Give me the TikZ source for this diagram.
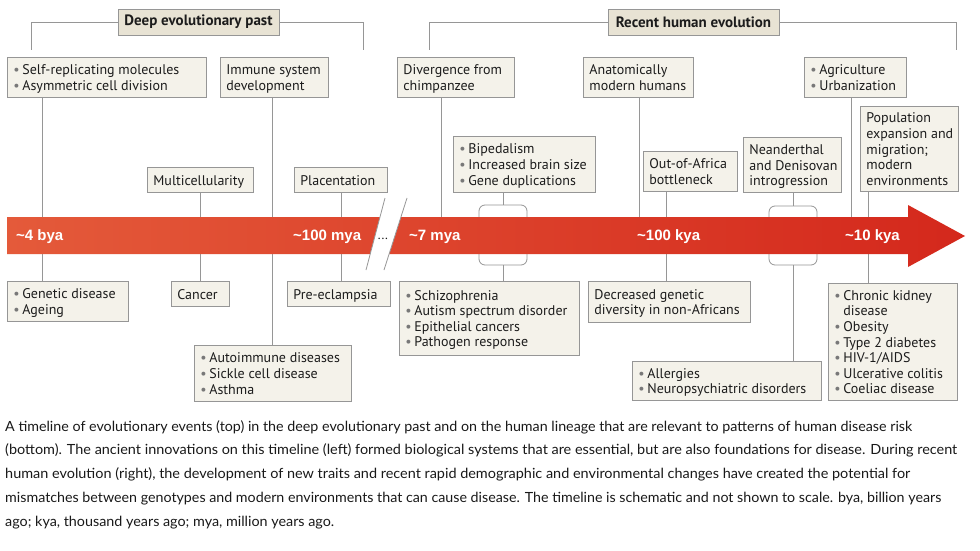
\documentclass[tikz,border=0pt]{standalone}
\usepackage{fontspec}
\usepackage{graphicx}
\setmainfont{PT Sans}
\newfontfamily\capfont{Lato}
\newfontfamily\lblfont{Liberation Sans}
\definecolor{boxfill}{RGB}{244,242,234}
\definecolor{hdrfill}{RGB}{232,227,212}
\definecolor{boxdraw}{RGB}{150,150,150}
\definecolor{conncol}{RGB}{150,150,150}
\definecolor{txt}{RGB}{28,28,28}
\definecolor{captxt}{RGB}{25,25,25}
\definecolor{bulc}{RGB}{120,120,120}
\definecolor{bandL}{RGB}{228,90,58}
\definecolor{bandR}{RGB}{212,40,28}
\newcommand\bul{\makebox[9pt][l]{\textcolor{bulc}{•}}}
\newcommand\boxat[6]{%
  \pgfmathsetmacro\bw{#4-#2-12}\pgfmathsetmacro\bh{#5-#3}%
  \pgfmathsetmacro\bww{#4-#2}%
  \node[evbox, minimum width=\bww pt, minimum height=\bh pt] (#1) at (#2,#3)
    {\makebox[\bw pt][l]{\raisebox{-2pt}[\height][\depth]{\begin{tabular}{@{}l@{}}#6\end{tabular}}}};}
\newcommand\capline[3]{\node[capnode] at (5,#1) {\resizebox{#2pt}{\height}{#3}};}
\tikzset{
  evbox/.style={draw=boxdraw, fill=boxfill, line width=0.8pt, inner xsep=6pt, inner ysep=2pt,
    anchor=north west, text=txt, font=\fontsize{14}{15.6}\selectfont},
  hdrbox/.style={draw=boxdraw, fill=hdrfill, line width=0.8pt, inner sep=0pt, align=center,
    text=txt, font=\bfseries\fontsize{15}{16}\selectfont},
  conn/.style={draw=conncol, line width=0.8pt},
  tlabel/.style={anchor=west, inner sep=0pt, text=white, font=\lblfont\bfseries\fontsize{15}{18}\selectfont},
  capnode/.style={anchor=base west, inner sep=0pt, text=captxt, font=\capfont\fontsize{14}{16}\selectfont},
}
\begin{document}
\begin{tikzpicture}[x=1pt,y=-1pt]
\useasboundingbox (0,0) rectangle (980,551);
\fill[white] (0,0) rectangle (980,551);

% headers
\node[hdrbox, minimum width=161pt, minimum height=26pt] (H1) at (198.5,22) {Deep evolutionary past};
\node[hdrbox, minimum width=171pt, minimum height=26pt] (H2) at (693.5,22) {Recent human evolution};
\coordinate (h1l) at (31,50); \coordinate (h1r) at (363,50);
\coordinate (h2l) at (429,50); \coordinate (h2r) at (956,50);
\draw[conn] (h1l) |- (H1.west);
\draw[conn] (H1.east) -| (h1r);
\draw[conn] (h2l) |- (H2.west);
\draw[conn] (H2.east) -| (h2r);

% band coordinates (top and bottom of timeline)
\foreach \n/\x in {A/42,B/272,C/441,D/639,E/851,M/200,P/341,Bi/503,O/666,N/793,Po/868}{
  \coordinate (t\n) at (\x,217);
  \coordinate (b\n) at (\x,254);
}
\coordinate (k1t) at (503,205); \coordinate (k1b) at (503,265);
\coordinate (k2t) at (793,206); \coordinate (k2b) at (793,265);

% top row
\boxat{A}{7}{57}{206}{97}{\bul Self-replicating molecules\\\bul Asymmetric cell division}
\boxat{B}{220}{57}{328}{97}{Immune system\\development}
\boxat{C}{397}{57}{514}{97}{Divergence from\\chimpanzee}
\boxat{D}{583}{57}{693}{97}{Anatomically\\modern humans}
\boxat{E}{804}{57}{906}{97}{\bul Agriculture\\\bul Urbanization}

% middle row above
\boxat{Mc}{147}{167}{253}{192}{Multicellularity}
\boxat{Pl}{294}{167}{387}{192}{Placentation}
\boxat{Bip}{453}{136}{595}{192}{\bul Bipedalism\\\bul Increased brain size\\\bul Gene duplications}
\boxat{Oa}{643}{151}{737}{191}{Out-of-Africa\\bottleneck}
\boxat{Ne}{743}{137}{841}{192}{Neanderthal\\and Denisovan\\introgression}
\boxat{Pop}{860}{106}{958}{191}{Population\\expansion and\\migration;\\modern\\environments}

% below
\boxat{Gd}{7}{281}{128}{321}{\bul Genetic disease\\\bul Ageing}
\boxat{Ca}{171}{281}{229}{306}{Cancer}
\boxat{Pe}{287}{281}{390}{306}{Pre-eclampsia}
\boxat{Au}{194}{345}{351}{401}{\bul Autoimmune diseases\\\bul Sickle cell disease\\\bul Asthma}
\boxat{Sc}{399}{281}{579}{355}{\bul Schizophrenia\\\bul Autism spectrum disorder\\\bul Epithelial cancers\\\bul Pathogen response}
\boxat{Dg}{588}{281}{750}{322}{Decreased genetic\\diversity in non-Africans}
\boxat{Al}{632}{361}{821}{400}{\bul Allergies\\\bul Neuropsychiatric disorders}
\boxat{Ck}{828}{283}{957}{400}{\bul Chronic kidney\\\hspace*{9pt}disease\\\bul Obesity\\\bul Type 2 diabetes\\\bul HIV-1/AIDS\\\bul Ulcerative colitis\\\bul Coeliac disease}

% connectors top
\draw[conn] (A.south -| tA) -- (tA);
\draw[conn] (B.south -| tB) -- (tB);
\draw[conn] (C.south -| tC) -- (tC);
\draw[conn] (D.south -| tD) -- (tD);
\draw[conn] (E.south -| tE) -- (tE);
\draw[conn] (Mc.south -| tM) -- (tM);
\draw[conn] (Pl.south -| tP) -- (tP);
\draw[conn] (Oa.south -| tO) -- (tO);
\draw[conn] (Pop.south -| tPo) -- (tPo);
% brackets
\draw[conn] (Bip.south -| k1t) -- (k1t);
\draw[conn, rounded corners=6pt] (479,217) -- (479,205) -- (527,205) -- (527,217);
\draw[conn] (Ne.south -| k2t) -- (k2t);
\draw[conn, rounded corners=6pt] (769,217) -- (769,206) -- (817,206) -- (817,217);
\draw[conn, rounded corners=6pt] (479,254) -- (479,265) -- (527,265) -- (527,254);
\draw[conn, rounded corners=6pt] (769,254) -- (769,265) -- (817,265) -- (817,254);
\draw[conn] (Sc.north -| k1b) -- (k1b);
\draw[conn] (Al.north -| k2b) -- (k2b);
% connectors bottom
\draw[conn] (Gd.north -| bA) -- (bA);
\draw[conn] (Au.north -| bB) -- (bB);
\draw[conn] (Ca.north -| bM) -- (bM);
\draw[conn] (Pe.north -| bP) -- (bP);
\draw[conn] (Dg.north -| bO) -- (bO);
\draw[conn] (Ck.north -| bPo) -- (bPo);

% band
\shade[left color=bandL, right color=bandR]
  (7,217) -- (908,217) -- (908,205) -- (965,236) -- (908,267) -- (908,254) -- (7,254) -- cycle;
\fill[white] (385,198) -- (407,198) -- (384,270) -- (366,270) -- cycle;
\draw[conn] (385,198) -- (366,270);
\draw[conn] (407,198) -- (384,270);
\node[text=txt, inner sep=0pt, font=\fontsize{13}{15}\selectfont] (dots) at (383,239) {...};

\node[tlabel] (l1) at (16,237) {\textasciitilde4 bya};
\node[tlabel] (l2) at (293,237) {\textasciitilde100 mya};
\node[tlabel] (l3) at (409,237) {\textasciitilde7 mya};
\node[tlabel] (l4) at (637,237) {\textasciitilde100 kya};
\node[tlabel] (l5) at (845,237) {\textasciitilde10 kya};

% caption
\capline{431}{907}{A timeline of evolutionary events (top) in the deep evolutionary past and on the human lineage that are relevant to patterns of human disease risk}
\capline{454}{952}{(bottom). The ancient innovations on this timeline (left) formed biological systems that are essential, but are also foundations for disease. During recent}
\capline{478}{905}{human evolution (right), the development of new traits and recent rapid demographic and environmental changes have created the potential for}
\capline{502}{936}{mismatches between genotypes and modern environments that can cause disease. The timeline is schematic and not shown to scale. bya, billion years}
\capline{526}{329}{ago; kya, thousand years ago; mya, million years ago.}
\end{tikzpicture}
\end{document}
